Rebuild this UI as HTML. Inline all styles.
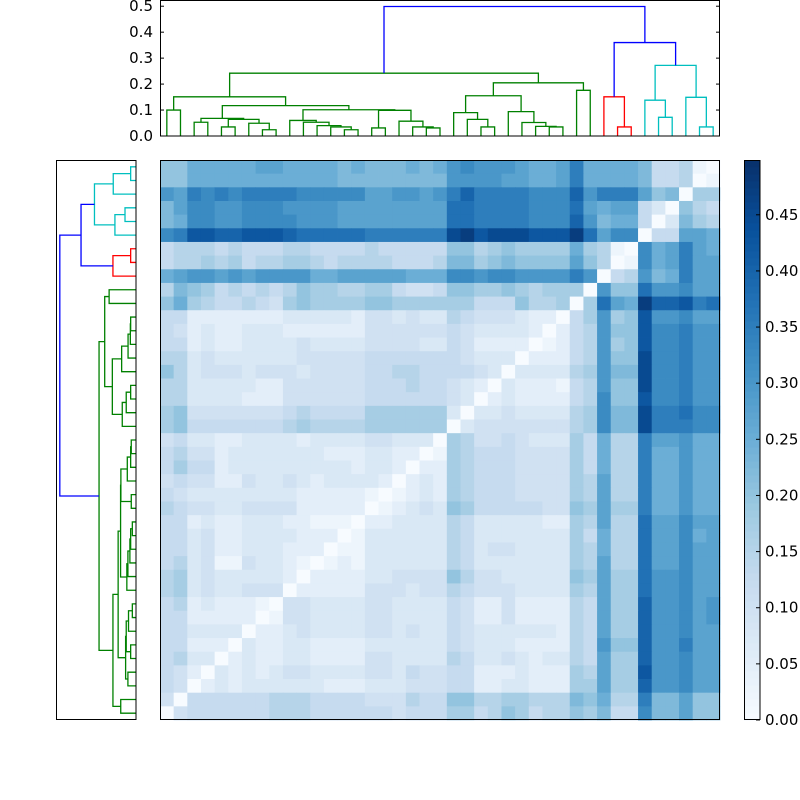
<!DOCTYPE html>
<html><head><meta charset="utf-8"><style>
html,body{margin:0;padding:0;background:#fff;}
svg{display:block;font-family:"DejaVu Sans","Liberation Sans",sans-serif;}
</style></head><body>
<svg id="chart" width="800" height="800" viewBox="0 0 800 800" xmlns="http://www.w3.org/2000/svg">
<g id="heat"></g>
<g id="topDen"></g>
<g id="leftDen"></g>
<g id="cbar"></g>
<g id="frames"></g>
</svg>
<script>
// heatmap rows (top to bottom), one char per cell, value = index in CODES * 0.025
const CODES = "0123456789abcdefghij";
const rows = [
"88aaaaabbaaaa9a999a9acdcccbaabeaaaa955610",
"88aaaaaaaaaaa99999999ccccbbaabeaaaa955601",
"cbededeeeedddddbbccbcegeeeedddgceeeb89077",
"9bddccdddccccbbbbbbbbffeeeedddfbabb530865",
"9addccddddcccbbbbbbbbffeeeedddgc9aa503976",
"dehhgghhhgfffffeeeeeeijhiiihhhjfbdd055bba",
"566656555665555655555886787777a7610dabeba",
"566767566776566665556997898888b8601dabebb",
"abccbcbccccaabbbbbaaaddcddccccec056c9aebb",
"69875656568776677544588778767770c88fccdbb",
"8a765565478777788777777555866707fbajgghef",
"55222222233333244343365444322057c78hccdbb",
"54232233322222244444454333320256c88hddecc",
"55232233334333344443354222201256c78hddecc",
"66343333334444455555554333022256c88iddecc",
"86344434443444455665555430333367c99iddecc",
"66333332244444455565543203222156c88iddecc",
"66333322244444455555543023222256d88hddecc",
"78444444456555577777730334333367d99ieefdd",
"78555555567666677777703444444467d99ieeedd",
"45332233332333344333076445433375a66ebbcaa",
"56442333333322233220176555444475a66eaacaa",
"57552333333333233202276555444475a66eaacaa",
"45442243343233332023276555444476b66eaacaa",
"54333333332222210123276555444476b66eaacaa",
"65443344442222201234387555554487b77eaacaa",
"55232233322111022333365333332276b66fbbdbb",
"55342233332220133333365333333375a66fbbdab",
"55342233322201133333365344333376a66fbbdbb",
"56341143321012133333365333333376b66fbbdbb",
"67343333320222233444486443333387b77fccdbb",
"67343344402222244434465444333376b77fccdbb",
"56232221044333344333354224222265b77gccdbc",
"55222220144333344333354224222265b77gccdbc",
"55333302234333344343354333333265b77gccdbb",
"55222032233222233333354333222265c88gccebb",
"56330232233222244333365334323365b77gccdbb",
"54203232344333344354455222322276b77hccdbb",
"54023233333322233344455223322277b77gccdbb",
"4055555566655554446558866776669 8a66e99b88".replace(" ",""),
"04555555666555555455577568756687955d99b88"
];
const vmax = 0.4988;
// dendrogram linkage: node ids 0..40 are leaves, merge i creates node 41+i
const mergeLeft  = [7,13,6,4,44,2,46,12,11,10,9,15,19,18,17,52,51,47,0,59,23,22,21,28,27,26,25,63,30,68,60,33,32,36,35,39,38,75,73,71];
const mergeRight = [8,14,41,5,43,3,45,42,48,49,50,16,20,53,54,55,56,57,1,58,24,61,62,29,64,65,66,67,31,69,70,34,72,37,74,40,76,77,78,79];
const mergeHeight= [0.024,0.024,0.049,0.035,0.064,0.053,0.068,0.035,0.040,0.053,0.060,0.031,0.031,0.035,0.057,0.099,0.101,0.117,0.100,0.151,0.035,0.064,0.090,0.035,0.037,0.052,0.094,0.155,0.176,0.205,0.242,0.035,0.151,0.072,0.138,0.035,0.149,0.272,0.360,0.499];
const mergeColor = ["g","g","g","g","g","g","g","g","g","g","g","g","g","g","g","g","g","g","g","g","g","g","g","g","g","g","g","g","g","g","g","r","r","c","c","c","c","c","b","b"];
const topTicks = ["0.0","0.1","0.2","0.3","0.4","0.5"];
const cbarTicks = ["0.00","0.05","0.10","0.15","0.20","0.25","0.30","0.35","0.40","0.45"];

const NS="http://www.w3.org/2000/svg";
const N = rows.length;
const HX0=160,HY0=160,HW=560,HH=560, cw=HW/N, ch=HH/N;
const colorMap={g:"#008000",r:"#ff0000",c:"#00bfbf",b:"#0000ff"};
const stops=["#f7fbff","#deebf7","#c6dbef","#9ecae1","#6baed6","#4292c6","#2171b5","#08519c","#08306b"];
function hex(h){return [1,3,5].map(i=>parseInt(h.substr(i,2),16));}
function blues(t){t=Math.max(0,Math.min(1,t));const p=t*8,i=Math.min(7,Math.floor(p)),f=p-i;
 const a=hex(stops[i]),b=hex(stops[i+1]);return "rgb("+a.map((v,k)=>Math.round(v+(b[k]-v)*f)).join(",")+")";}
function mk(tag,attrs,parent){const e=document.createElementNS(NS,tag);for(const k in attrs)e.setAttribute(k,attrs[k]);parent.appendChild(e);return e;}

// heatmap
const heat=document.getElementById("heat");
rows.forEach((row,r)=>{
  for(let c=0;c<N;c++){
    const v=CODES.indexOf(row[c])*0.025;
    const el=mk("rect",{x:HX0+c*cw,y:HY0+r*ch,width:cw+0.4,height:ch+0.4,fill:blues(v/vmax)},heat);
    
    
  }
});

// dendrograms
const pos={},ht={};
for(let k=0;k<N;k++){pos[k]=k+0.5;ht[k]=0;}
const topD=document.getElementById("topDen"),leftD=document.getElementById("leftDen");
const DMAX=0.499*1.05;
const tx=p=>HX0+p*cw, ty=d=>136-d*(136/DMAX);
const ly=p=>720-p*ch, lx=d=>136-d*(80/DMAX);
mergeLeft.forEach((a,i)=>{
  const b=mergeRight[i],h=mergeHeight[i],col=colorMap[mergeColor[i]],id=N+i;
  pos[id]=(pos[a]+pos[b])/2;ht[id]=h;
  const p1=`M${tx(pos[a])},${ty(ht[a])}V${ty(h)}H${tx(pos[b])}V${ty(ht[b])}`;
  const e1=mk("path",{d:p1,fill:"none",stroke:col,"stroke-width":1.3},topD);
  
  
  const p2=`M${lx(ht[a])},${ly(pos[a])}H${lx(h)}V${ly(pos[b])}H${lx(ht[b])}`;
  const e2=mk("path",{d:p2,fill:"none",stroke:col,"stroke-width":1.3},leftD);
  
  
});

// top axis ticks
topTicks.forEach(t=>{
  const y=ty(parseFloat(t));
  mk("line",{x1:160,x2:164,y1:y,y2:y,stroke:"#000"},topD);
  mk("line",{x1:720,x2:716,y1:y,y2:y,stroke:"#000"},topD);
  const tl=mk("text",{x:153,y:y+5,"text-anchor":"end","font-size":15,fill:"#000"},topD);
  tl.textContent=t;
  
  
});

// colorbar
const cb=document.getElementById("cbar");
const CB=80;
for(let i=0;i<CB;i++){
  mk("rect",{x:744,y:720-(i+1)*560/CB,width:16,height:560/CB+0.5,fill:blues((i+0.5)/CB)},cb);
}
cbarTicks.forEach(t=>{
  const y=720-parseFloat(t)/vmax*560;
  mk("line",{x1:756,x2:760,y1:y,y2:y,stroke:"#000"},cb);
  const tl=mk("text",{x:765,y:y+5,"font-size":15,fill:"#000"},cb);
  tl.textContent=t;
  
  
});

// frames
const fr=document.getElementById("frames");
[[160.5,0.5,559,135.5],[56.5,160.5,79.5,559],[160.5,160.5,559,559],[744.5,160.5,15.5,559]].forEach(b=>{
  mk("rect",{x:b[0],y:b[1],width:b[2],height:b[3],fill:"none",stroke:"#000","stroke-width":1},fr);
});
</script>
</body></html>
